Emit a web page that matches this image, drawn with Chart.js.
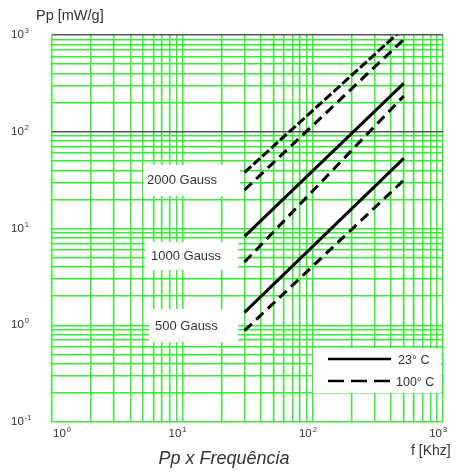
<!DOCTYPE html>
<html>
<head>
<meta charset="utf-8">
<script src="https://cdn.jsdelivr.net/npm/chart.js@4.4.0/dist/chart.umd.min.js"></script>
<style>
    html, body { margin: 0; padding: 0; background: #fff; }
    #wrap { width: 458px; height: 472px; }
</style>
</head>
<body>
<div id="wrap"><canvas id="myChart"></canvas></div>
<script>
// Frequency at both ends of every curve [kHz]
var freq = [30, 500];

// Core loss Pp [mW/g] at those frequencies
var p2000at23 = [38, 1180];
var p2000at100 = [25, 900];
var p1000at23 = [8.3, 316];
var p1000at100 = [4.5, 234];
var p500at23 = [1.36, 53];
var p500at100 = [0.88, 31.6];

// Axis decades (exponents) and the labels beside the curves
var xDecades = [0, 1, 2, 3];
var yDecades = [-1, 0, 1, 2, 3];
var darkLines = [100, 1000];
var gaussLabels = ['2000 Gauss', '1000 Gauss', '500 Gauss'];
var legendLabels = ['23\u00b0 C', '100\u00b0 C'];

var GREEN = '#30f030';
var TEXT = '#333';

// Build 1..9 grid values for each decade
function gridValues(decades) {
    var vals = [];
    for (var i = 0; i < decades.length; i++) {
        var base = Math.pow(10, decades[i]);
        if (i == decades.length - 1) {
            vals.push(base);
            break;
        }
        for (var m = 1; m <= 9; m++) {
            vals.push(+(m * base).toPrecision(3));
        }
    }
    return vals;
}

function series(label, values, dash) {
    return {
        label: label,
        data: freq.map(function(f, i) { return { x: f, y: values[i] }; }),
        borderColor: '#000',
        borderWidth: 3,
        borderDash: dash,
        pointRadius: 0,
        showLine: true,
        fill: false
    };
}

// Draws "10" with a small raised exponent
function drawPower(ctx, exp, x, y) {
    ctx.font = '11.5px "Liberation Sans", Arial, sans-serif';
    var w1 = ctx.measureText('10').width;
    ctx.textAlign = 'left';
    ctx.textBaseline = 'middle';
    ctx.fillText('10', x, y);
    ctx.font = '7.5px "Liberation Sans", Arial, sans-serif';
    ctx.fillText(String(exp), x + w1 + 1, y - 4);
}

var decorPlugin = {
    id: 'decor',
    beforeDatasetsDraw: function(chart) {
        var ctx = chart.ctx;
        ctx.save();
        ctx.fillStyle = '#fff';
        // white boxes behind the gauss labels and the legend
        ctx.fillRect(143, 165, 97, 31);
        ctx.fillRect(145, 242, 93, 28);
        ctx.fillRect(149, 309, 89, 33);
        ctx.fillRect(313, 348, 128, 45);
        ctx.restore();
    },
    afterDraw: function(chart) {
        var ctx = chart.ctx;
        var xs = chart.scales.x;
        var ys = chart.scales.y;
        var area = chart.chartArea;
        ctx.save();
        ctx.fillStyle = TEXT;

        // y tick labels
        yDecades.forEach(function(e) {
            var py = ys.getPixelForValue(Math.pow(10, e));
            drawPower(ctx, e < 0 ? '-' + (-e) : e, 11, py);
        });

        // x tick labels
        xDecades.forEach(function(e) {
            var px = xs.getPixelForValue(Math.pow(10, e));
            ctx.font = '11.5px "Liberation Sans", Arial, sans-serif';
            var w = ctx.measureText('10').width + 5;
            var left = Math.max(px - w + 4, area.left + 1);
            drawPower(ctx, e, left, area.bottom + 12);
        });

        // axis titles
        ctx.textAlign = 'left';
        ctx.textBaseline = 'middle';
        ctx.font = '14.5px "Liberation Sans", Arial, sans-serif';
        ctx.fillText('Pp [mW/g]', 36, 16);
        ctx.font = '14px "Liberation Sans", Arial, sans-serif';
        ctx.fillText('f [Khz]', 411, 451);

        // gauss labels
        ctx.font = '13px "Liberation Sans", Arial, sans-serif';
        ctx.fillText(gaussLabels[0], 147, 180);
        ctx.fillText(gaussLabels[1], 151, 256);
        ctx.fillText(gaussLabels[2], 155, 326);

        // legend
        ctx.strokeStyle = '#000';
        ctx.lineWidth = 2.5;
        ctx.beginPath();
        ctx.moveTo(328, 359);
        ctx.lineTo(391, 359);
        ctx.stroke();
        ctx.setLineDash([16, 7]);
        ctx.beginPath();
        ctx.moveTo(328, 381);
        ctx.lineTo(391, 381);
        ctx.stroke();
        ctx.setLineDash([]);
        ctx.font = '12.5px "Liberation Sans", Arial, sans-serif';
        ctx.fillText(legendLabels[0], 398, 361);
        ctx.fillText(legendLabels[1], 396, 383);

        // chart title
        ctx.textAlign = 'center';
        ctx.textBaseline = 'alphabetic';
        ctx.font = 'italic 18px "Liberation Sans", Arial, sans-serif';
        ctx.fillText('Pp x Frequ\u00eancia', 224, 464);
        ctx.restore();
    }
};

var xGrid = gridValues(xDecades);
var yGrid = gridValues(yDecades);

var ctx = document.getElementById('myChart').getContext('2d');
var myChart = new Chart(ctx, {
    type: 'scatter',
    data: {
        datasets: [
            series('2000 Gauss 23', p2000at23, [9, 3]),
            series('2000 Gauss 100', p2000at100, [10, 6]),
            series('1000 Gauss 23', p1000at23, []),
            series('1000 Gauss 100', p1000at100, [10, 6]),
            series('500 Gauss 23', p500at23, []),
            series('500 Gauss 100', p500at100, [10, 6])
        ]
    },
    options: {
        responsive: true,
        maintainAspectRatio: false,
        animation: false,
        layout: {
            padding: { left: 52, right: 15, top: 35, bottom: 50 }
        },
        plugins: {
            legend: { display: false },
            tooltip: { enabled: false }
        },
        scales: {
            x: {
                type: 'logarithmic',
                min: 1,
                max: 1000,
                afterBuildTicks: function(scale) {
                    scale.ticks = xGrid.map(function(v) { return { value: v }; });
                },
                ticks: { display: false },
                border: { display: false },
                grid: { drawTicks: false, color: GREEN, lineWidth: 1.5 }
            },
            y: {
                type: 'logarithmic',
                min: 0.1,
                max: 1000,
                afterBuildTicks: function(scale) {
                    scale.ticks = yGrid.map(function(v) { return { value: v }; });
                },
                ticks: { display: false },
                border: { display: false },
                grid: {
                    drawTicks: false,
                    color: function(c) {
                        return darkLines.indexOf(c.tick.value) >= 0 ? '#555' : GREEN;
                    },
                    lineWidth: function(c) {
                        return darkLines.indexOf(c.tick.value) >= 0 ? 1.6 : 1.5;
                    }
                }
            }
        }
    },
    plugins: [decorPlugin]
});
</script>
</body>
</html>
